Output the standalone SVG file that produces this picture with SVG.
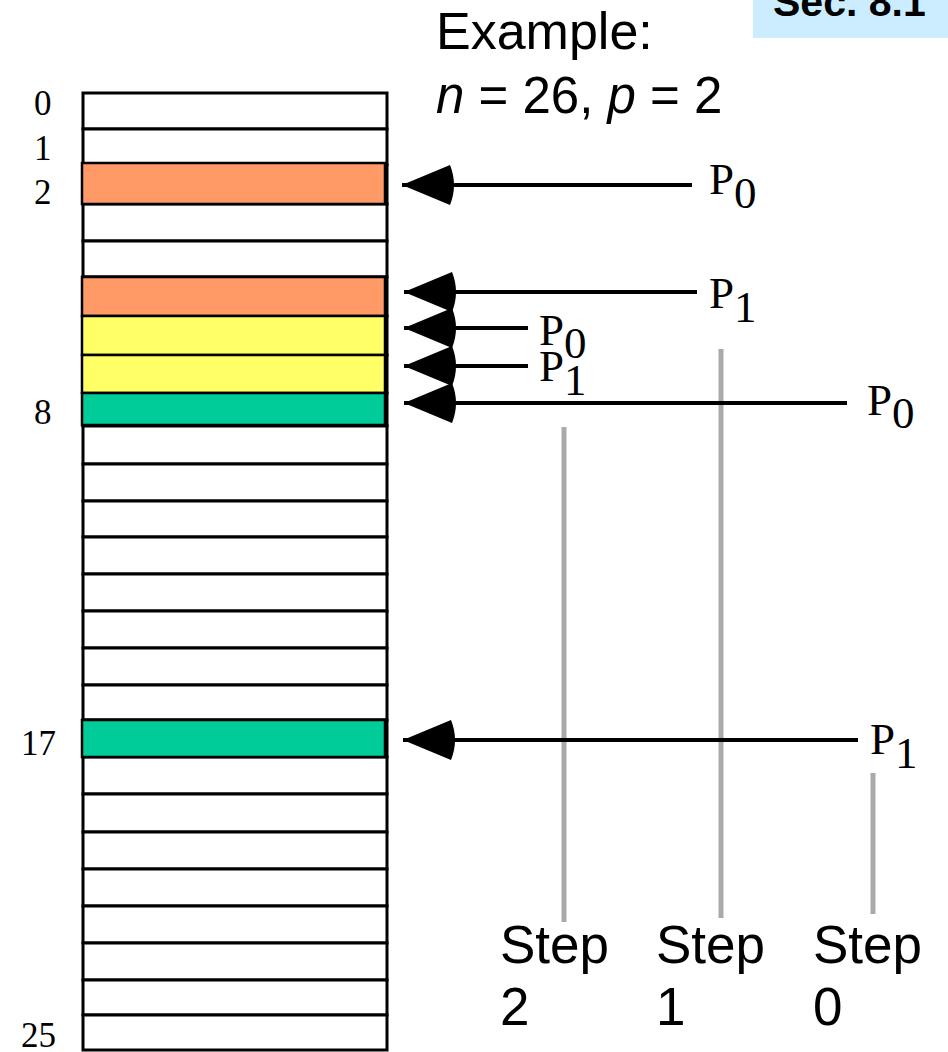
<svg xmlns="http://www.w3.org/2000/svg" width="948" height="1052" viewBox="0 0 948 1052">
<style>
.row{fill:#fff;stroke:#000;stroke-width:3}
.c{stroke:#000;stroke-width:2.5}
.idx{font-family:"Liberation Serif",serif;font-size:35px;fill:#000}
.pl{font-family:"Liberation Serif",serif;font-size:45px;fill:#000}
.sans{font-family:"Liberation Sans",Arial,sans-serif;fill:#000}
.arr{stroke:#000;stroke-width:4;fill:none;marker-end:url(#ah)}
.g{stroke:#aaaaaa;stroke-width:5}
</style>
<defs>
<marker id="ah" markerUnits="userSpaceOnUse" markerWidth="60" markerHeight="44" refX="52" refY="21" orient="auto" overflow="visible">
<path d="M4,1 Q-4,21 4,41 L52,21 Z" fill="#000"/>
</marker>
</defs>
<rect width="948" height="1052" fill="#fff"/>
<g id="sec">
<rect x="753" y="0" width="195" height="38" fill="#CCECFF"/>
<text class="sans" x="773" y="16" font-size="41" font-weight="bold">Sec. 8.1</text>
</g>
<g id="title">
<text class="sans" x="436" y="49" font-size="52">Example:</text>
<text class="sans" x="436" y="113" font-size="51"><tspan font-style="italic">n</tspan> = 26, <tspan font-style="italic">p</tspan> = 2</text>
</g>
<g id="table">
<rect class="row" x="83" y="93" width="304" height="36"/>
<rect class="row" x="83" y="129" width="304" height="36"/>
<rect class="row" x="83" y="165" width="304" height="39"/>
<rect class="row" x="83" y="204" width="304" height="37"/>
<rect class="row" x="83" y="241" width="304" height="36"/>
<rect class="row" x="83" y="277" width="304" height="39"/>
<rect class="row" x="83" y="316" width="304" height="39"/>
<rect class="row" x="83" y="355" width="304" height="38"/>
<rect class="row" x="83" y="393" width="304" height="33"/>
<rect class="row" x="83" y="426" width="304" height="38"/>
<rect class="row" x="83" y="464" width="304" height="37"/>
<rect class="row" x="83" y="501" width="304" height="36"/>
<rect class="row" x="83" y="537" width="304" height="37"/>
<rect class="row" x="83" y="574" width="304" height="37"/>
<rect class="row" x="83" y="611" width="304" height="37"/>
<rect class="row" x="83" y="648" width="304" height="37"/>
<rect class="row" x="83" y="685" width="304" height="35"/>
<rect class="row" x="83" y="720" width="304" height="37"/>
<rect class="row" x="83" y="757" width="304" height="37"/>
<rect class="row" x="83" y="794" width="304" height="38"/>
<rect class="row" x="83" y="832" width="304" height="37"/>
<rect class="row" x="83" y="869" width="304" height="37"/>
<rect class="row" x="83" y="906" width="304" height="37"/>
<rect class="row" x="83" y="943" width="304" height="37"/>
<rect class="row" x="83" y="980" width="304" height="35"/>
<rect class="row" x="83" y="1015" width="304" height="35"/>
</g>
<g id="cells">
<rect class="c" x="82" y="163" width="303" height="41" fill="#FF9966"/>
<rect class="c" x="82" y="277" width="303" height="39" fill="#FF9966"/>
<rect class="c" x="82" y="316" width="303" height="39" fill="#FFFF66"/>
<rect class="c" x="82" y="355" width="303" height="38" fill="#FFFF66"/>
<rect class="c" x="82" y="393" width="303" height="32" fill="#00CC99"/>
<rect class="c" x="82" y="720" width="303" height="37" fill="#00CC99"/>
</g>
<g id="indices">
<text class="idx" x="34" y="115">0</text>
<text class="idx" x="34" y="160">1</text>
<text class="idx" x="34" y="204">2</text>
<text class="idx" x="34" y="424">8</text>
<text class="idx" x="21" y="755">17</text>
<text class="idx" x="21" y="1047">25</text>
</g>
<g id="steplines">
<line class="g" x1="564" y1="427" x2="564" y2="922"/>
<line class="g" x1="721" y1="349" x2="721" y2="918"/>
<line class="g" x1="873" y1="773" x2="873" y2="914"/>
</g>
<g id="connectors">
<line class="arr" x1="692" y1="185" x2="402" y2="185"/>
<line class="arr" x1="697" y1="292" x2="404" y2="292"/>
<line class="arr" x1="528" y1="328" x2="404" y2="328"/>
<line class="arr" x1="528" y1="366" x2="404" y2="366"/>
<line class="arr" x1="847" y1="403" x2="404" y2="403"/>
<line class="arr" x1="858" y1="740" x2="403" y2="740"/>
</g>
<g id="labels">
<text class="pl" x="709" y="194">P<tspan dy="14">0</tspan></text>
<text class="pl" x="709" y="308">P<tspan dy="14">1</tspan></text>
<text class="pl" x="539" y="345">P<tspan dy="13">0</tspan></text>
<text class="pl" x="539" y="381">P<tspan dy="14">1</tspan></text>
<text class="pl" x="867" y="415">P<tspan dy="13">0</tspan></text>
<text class="pl" x="870" y="754">P<tspan dy="14">1</tspan></text>
</g>
<g id="steps">
<text class="sans" x="500" y="963" font-size="53">Step</text>
<text class="sans" x="500" y="1025" font-size="53">2</text>
<text class="sans" x="656" y="963" font-size="53">Step</text>
<text class="sans" x="656" y="1025" font-size="53">1</text>
<text class="sans" x="813" y="963" font-size="53">Step</text>
<text class="sans" x="813" y="1025" font-size="53">0</text>
</g>
</svg>
